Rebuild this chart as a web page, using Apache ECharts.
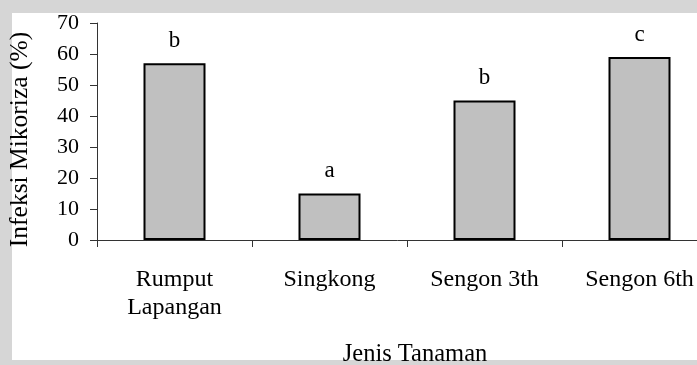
<!DOCTYPE html>
<html><head><meta charset="utf-8">
<script src="https://cdn.jsdelivr.net/npm/echarts@6/dist/echarts.min.js"></script>
<style>html,body{margin:0;padding:0;background:#d6d6d6;}#c{width:697px;height:365px;}</style>
</head><body><div id="c"></div>
<script>
const categories = ['Rumput\nLapangan', 'Singkong', 'Sengon 3th', 'Sengon 6th'];
const values = [57, 15, 45, 59];
const letters = ['b', 'a', 'b', 'c'];
const yTicks = [0, 10, 20, 30, 40, 50, 60, 70];
const xName = 'Jenis Tanaman';
const yName = 'Infeksi Mikoriza (%)';

const F = 'Liberation Serif';
const chart = echarts.init(document.getElementById('c'));
chart.setOption({
  backgroundColor: '#d6d6d6',
  animation: false,
  graphic: [
    { type: 'rect', z: -10, shape: { x: 12, y: 13, width: 700, height: 347 }, style: { fill: '#ffffff' } },
    { type: 'rect', z: 100, shape: { x: 0, y: 361, width: 697, height: 4 }, style: { fill: '#d6d6d6' } }
  ],
  grid: { left: 97, top: 23, height: 217, width: 620, outerBoundsMode: 'none', containLabel: false },
  xAxis: {
    type: 'category', data: categories,
    axisLine: { lineStyle: { color: '#333', width: 1 } },
    axisTick: { show: true, length: 7, alignWithLabel: false, lineStyle: { color: '#333' } },
    axisLabel: { color: '#000', fontFamily: F, fontSize: 24, lineHeight: 28, margin: 26, interval: 0 },
    name: xName, nameLocation: 'middle', nameGap: 102,
    nameTextStyle: { color: '#000', fontFamily: F, fontSize: 24.5, padding: [0, 0, 0, 16] }
  },
  yAxis: {
    type: 'value', min: yTicks[0], max: yTicks[yTicks.length - 1], interval: yTicks[1] - yTicks[0],
    splitLine: { show: false },
    axisLine: { show: true, lineStyle: { color: '#333', width: 1 } },
    axisTick: { show: true, length: 7, lineStyle: { color: '#333' } },
    axisLabel: { color: '#000', fontFamily: F, fontSize: 22, margin: 18 },
    name: yName, nameLocation: 'middle', nameGap: 64,
    nameTextStyle: { color: '#000', fontFamily: F, fontSize: 25.5, padding: [0, 16, 0, 0] }
  },
  series: [{
    type: 'bar', data: values, barWidth: '40%',
    itemStyle: { color: '#c0c0c0', borderColor: '#000', borderWidth: 2 },
    label: {
      show: true, position: 'top', distance: 11, color: '#000', fontFamily: F, fontSize: 23,
      formatter: p => letters[p.dataIndex]
    }
  }]
});
</script></body></html>
